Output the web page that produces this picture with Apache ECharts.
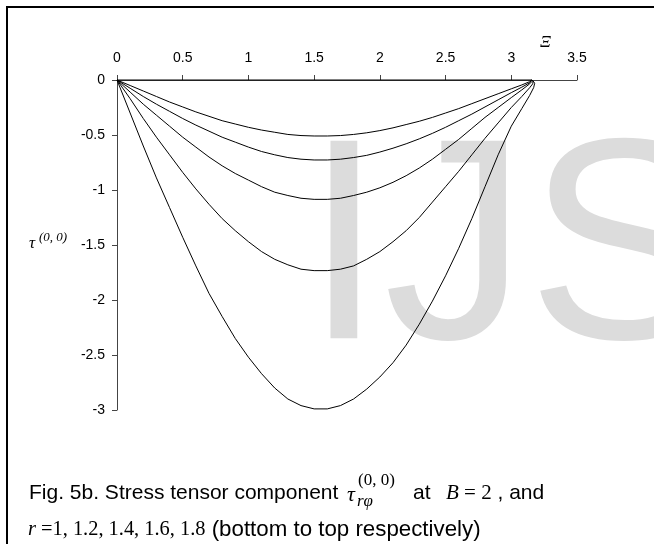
<!DOCTYPE html>
<html><head><meta charset="utf-8">
<script src="https://cdn.jsdelivr.net/npm/echarts@6/dist/echarts.min.js"></script>
<style>html,body{margin:0;padding:0;background:#fff}#c{width:654px;height:544px}</style>
</head><body><div id="c"></div>
<script>
// Xi values shared by the main part of every curve
const xBase = [0,0.1,0.2,0.3,0.4,0.5,0.6,0.7,0.8,0.9,1.0,1.1,1.2,1.3,1.4,1.5,1.6,1.7,1.8,1.9,2.0,2.1,2.2,2.3,2.4,2.5,2.6,2.7,2.8,2.9,3.0,3.08,3.14];
// tau values for r = 1, 1.2, 1.4, 1.6, 1.8
const r10 = [0,-0.30,-0.60,-0.89,-1.16,-1.43,-1.69,-1.94,-2.15,-2.35,-2.52,-2.67,-2.80,-2.90,-2.96,-2.99,-2.99,-2.96,-2.90,-2.81,-2.70,-2.57,-2.41,-2.22,-2.01,-1.78,-1.53,-1.26,-0.97,-0.68,-0.42,-0.26,-0.14];
const r12 = [0,-0.17,-0.35,-0.52,-0.68,-0.84,-0.99,-1.13,-1.26,-1.37,-1.47,-1.56,-1.63,-1.68,-1.72,-1.733,-1.733,-1.72,-1.69,-1.63,-1.56,-1.47,-1.37,-1.25,-1.11,-0.97,-0.83,-0.68,-0.53,-0.39,-0.25,-0.15,-0.07];
const r14 = [0,-0.11,-0.22,-0.32,-0.42,-0.52,-0.61,-0.70,-0.78,-0.85,-0.91,-0.97,-1.02,-1.05,-1.075,-1.085,-1.085,-1.075,-1.05,-1.02,-0.98,-0.93,-0.87,-0.80,-0.72,-0.63,-0.54,-0.44,-0.34,-0.25,-0.16,-0.09,-0.035];
const r16 = [0,-0.075,-0.15,-0.22,-0.285,-0.35,-0.41,-0.465,-0.52,-0.565,-0.61,-0.65,-0.68,-0.705,-0.72,-0.727,-0.727,-0.72,-0.705,-0.685,-0.655,-0.62,-0.58,-0.535,-0.485,-0.43,-0.37,-0.31,-0.245,-0.18,-0.115,-0.065,-0.025];
const r18 = [0,-0.05,-0.10,-0.15,-0.20,-0.245,-0.29,-0.33,-0.37,-0.40,-0.43,-0.455,-0.475,-0.495,-0.505,-0.509,-0.509,-0.505,-0.495,-0.48,-0.46,-0.435,-0.405,-0.375,-0.34,-0.30,-0.26,-0.215,-0.17,-0.125,-0.08,-0.045,-0.015];
// end hooks near Xi = pi
const tailX10 = [3.17,3.178,3.166,3.155], tailY10 = [-0.07,-0.03,-0.008,0];
const tailX12 = [3.163,3.166,3.155], tailY12 = [-0.035,-0.012,0];
const tailX14 = [3.158,3.155], tailY14 = [-0.012,0];
const tailX16 = [3.155], tailY16 = [0];
const tailX18 = [3.155], tailY18 = [0];
const zeroX = [0,3.155], zeroY = [0,0];

function pts(xs, ys, tx, ty){
  const out = xs.map((x,i)=>[x, ys[i]]);
  tx.forEach((x,i)=>out.push([x, ty[i]]));
  return out;
}
const chart = echarts.init(document.getElementById('c'), null, {renderer:'canvas'});
const lineS = (name, data) => ({name, type:'line', data, showSymbol:false, symbol:'none', smooth:false, clip:false, z:3,
  lineStyle:{color:'#000', width:1}, emphasis:{disabled:true}});
const axCol = '#444';
chart.setOption({
  animation:false,
  backgroundColor:'#fff',
  grid:{left:117, right:77, top:80, bottom:134, containLabel:false},
  xAxis:{type:'value', position:'top', min:0, max:3.5, interval:0.5,
    axisLine:{show:true, onZero:false, lineStyle:{color:axCol, width:1}},
    axisTick:{show:true, length:5, lineStyle:{color:axCol}},
    axisLabel:{margin:15, fontSize:14, color:'#000', fontFamily:'Liberation Sans'},
    splitLine:{show:false}},
  yAxis:{type:'value', min:-3, max:0, interval:0.5,
    axisLine:{show:true, onZero:false, lineStyle:{color:axCol, width:1}},
    axisTick:{show:true, length:5, lineStyle:{color:axCol}},
    axisLabel:{margin:12, fontSize:14, color:'#000', fontFamily:'Liberation Sans'},
    splitLine:{show:false}},
  series:[
    lineS('r=1', pts(xBase, r10, tailX10, tailY10)),
    lineS('r=1.2', pts(xBase, r12, tailX12, tailY12)),
    lineS('r=1.4', pts(xBase, r14, tailX14, tailY14)),
    lineS('r=1.6', pts(xBase, r16, tailX16, tailY16)),
    lineS('r=1.8', pts(xBase, r18, tailX18, tailY18)),
    lineS('r=2', pts(zeroX, zeroY, [], []))
  ],
  graphic:[
    {type:'text', x:304, y:259, z:0, silent:true, style:{text:'IJS', fontSize:287, fontFamily:'Liberation Sans', fill:'#dcdcdc', verticalAlign:'middle'}},
    {type:'rect', shape:{x:7, y:7, width:700, height:600}, style:{fill:null, stroke:'#000', lineWidth:2}},
    {type:'text', x:540, y:43, style:{text:'Ξ', fontSize:17, fontStyle:'italic', fontFamily:'Liberation Serif', fill:'#000', verticalAlign:'middle'}},
    {type:'text', x:29, y:244, style:{text:'τ', fontSize:17, fontStyle:'italic', fontFamily:'Liberation Serif', fill:'#000', verticalAlign:'middle'}},
    {type:'text', x:39, y:238, style:{text:'(0, 0)', fontSize:13, fontStyle:'italic', fontFamily:'Liberation Serif', fill:'#000', verticalAlign:'middle'}},
    {type:'text', x:29, y:493, style:{text:'Fig. 5b. Stress tensor component', fontSize:21, fontFamily:'Liberation Sans', fill:'#000', verticalAlign:'middle'}},
    {type:'text', x:347, y:495, style:{text:'τ', fontSize:22, fontStyle:'italic', fontFamily:'Liberation Serif', fill:'#000', verticalAlign:'middle'}},
    {type:'text', x:358, y:481, style:{text:'(0, 0)', fontSize:17, fontFamily:'Liberation Serif', fill:'#000', verticalAlign:'middle'}},
    {type:'text', x:357, y:502, style:{text:'rφ', fontSize:17, fontStyle:'italic', fontFamily:'Liberation Serif', fill:'#000', verticalAlign:'middle'}},
    {type:'text', x:413, y:493, style:{text:'at', fontSize:21, fontFamily:'Liberation Sans', fill:'#000', verticalAlign:'middle'}},
    {type:'text', x:446, y:493, style:{text:'{i|B}{n| = 2}{s| , and}', verticalAlign:'middle', rich:{
      i:{fontSize:21, fontStyle:'italic', fontFamily:'Liberation Serif', fill:'#000'},
      n:{fontSize:21, fontFamily:'Liberation Serif', fill:'#000'},
      s:{fontSize:21, fontFamily:'Liberation Sans', fill:'#000'}}}},
    {type:'text', x:28, y:530, style:{text:'{i|r}{n| =1, 1.2, 1.4, 1.6, 1.8}{s| (bottom to top respectively)}', verticalAlign:'middle', rich:{
      i:{fontSize:20.4, fontStyle:'italic', fontFamily:'Liberation Serif', fill:'#000'},
      n:{fontSize:20.4, fontFamily:'Liberation Serif', fill:'#000'},
      s:{fontSize:22.3, fontFamily:'Liberation Sans', fill:'#000'}}}}
  ]
});
</script></body></html>
